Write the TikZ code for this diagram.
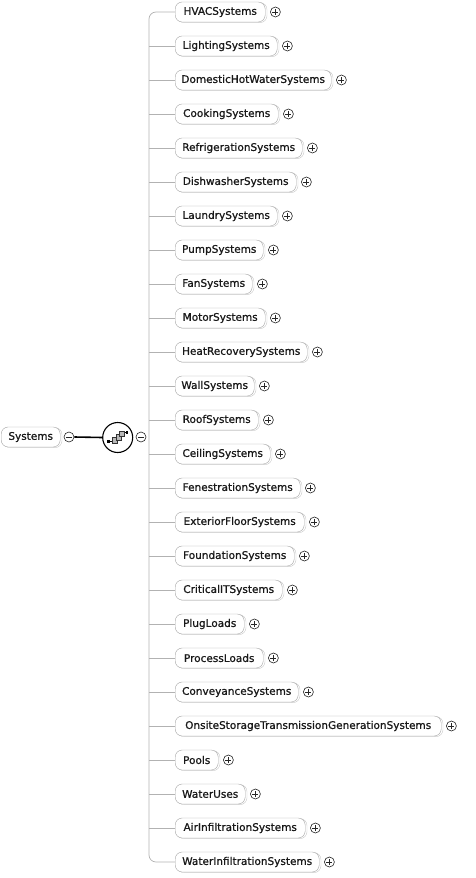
\documentclass[tikz,border=0pt]{standalone}
\usepackage{fontspec}
\setmainfont{DejaVu Sans}
\newfontfamily\lblfont{DejaVu Sans}[FakeBold=0.9]
\begin{document}
\begin{tikzpicture}[x=1pt,y=-1pt,
  elem/.style={draw=gray!70, fill=white, rounded corners=7, minimum height=20,
    inner sep=0, anchor=west, font=\lblfont\fontsize{10.5}{12}\selectfont, text=black!90,
    preaction={draw=gray!45, transform canvas={xshift=1.8pt,yshift=-0.6pt}}},
  conn/.style={draw=gray!60, line width=0.7},
  btn/.style={circle, draw=black!85, fill=white, minimum size=10, inner sep=0, line width=0.6},
  pbtn/.style={btn, path picture={
     \draw[black!85,line width=0.6] ([xshift=-3]path picture bounding box.center) -- ([xshift=3]path picture bounding box.center);
     \draw[black!85,line width=0.6] ([yshift=-3]path picture bounding box.center) -- ([yshift=3]path picture bounding box.center);}},
  mbtn/.style={btn, path picture={
     \draw[black!85,line width=0.6] ([xshift=-3]path picture bounding box.center) -- ([xshift=3]path picture bounding box.center);}},
  sq/.style={draw=black!80, fill=gray!55, line width=0.5}
]
\useasboundingbox (0,0) rectangle (475,878);

% root
\node[elem, minimum width=59] (root) at (1,437) {Systems};
\node[mbtn] (rm) at (69,437) {};
\node[circle, draw=black, line width=1.1, fill=white, minimum size=30, inner sep=0] (comp) at (117.7,437.5) {};
\draw[black, line width=1.6] (rm.east) -- (comp.west);
% compositor symbol
\draw[black, line width=0.6] (109,441.3) -- (112,441.3);
\draw[black, line width=0.6] (124,432.7) -- (127,432.7);
\fill[black] (107.3,440) rectangle (110,442.7);
\fill[black] (125.5,431.3) rectangle (128.2,434);
\draw[sq] (111.8,437.5) rectangle (117.3,443.2);
\draw[sq] (115.8,434.2) rectangle (121.3,439.8);
\draw[sq] (119.3,431.3) rectangle (124.3,436.7);
\node[mbtn] (cm) at (141,437) {};
\coordinate (bus) at (149,437);

% children
\foreach \i/\w/\t in {
 1/90/HVACSystems,
 2/102/LightingSystems,
 3/156/DomesticHotWaterSystems,
 4/103/CookingSystems,
 5/127/RefrigerationSystems,
 6/121/DishwasherSystems,
 7/102/LaundrySystems,
 8/88/PumpSystems,
 9/77/FanSystems,
 10/90/MotorSystems,
 11/132/HeatRecoverySystems,
 12/79/WallSystems,
 13/83/RoofSystems,
 14/95/CeilingSystems,
 15/125/FenestrationSystems,
 16/129/ExteriorFloorSystems,
 17/119/FoundationSystems,
 18/107/CriticalITSystems,
 19/69/PlugLoads,
 20/88/ProcessLoads,
 21/123/ConveyanceSystems,
 22/266/OnsiteStorageTransmissionGenerationSystems,
 23/43/Pools,
 24/70/WaterUses,
 25/130/AirInfiltrationSystems,
 26/144/WaterInfiltrationSystems}
{
  \node[elem, minimum width=\w] (c\i) at (175,{12+(\i-1)*34}) {\t};
  \node[pbtn] (p\i) at ([xshift=10]c\i.east) {};
}

\draw[conn, rounded corners=7] (c1.west) -| (bus) |- (c26.west);
\foreach \i in {2,...,25} {
  \draw[conn] (c\i.west) -- (c\i.west -| bus);
}
\end{tikzpicture}
\end{document}
